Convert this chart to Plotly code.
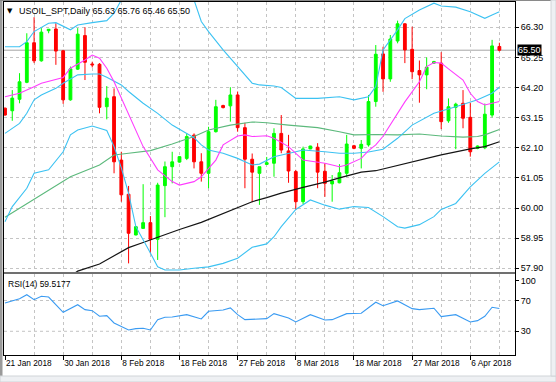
import plotly.graph_objects as go

# ---------------- data ----------------
date_labels = ["21 Jan 2018", "30 Jan 2018", "8 Feb 2018", "18 Feb 2018", "27 Feb 2018",
               "8 Mar 2018", "18 Mar 2018", "27 Mar 2018", "6 Apr 2018"]
date_label_bars = [0, 8, 16, 24, 32, 40, 48, 56, 64]
grid_bars = [4, 8, 12, 16, 20, 24, 28, 32, 36, 40, 44, 48, 52, 56, 60, 64, 68]

opens = [63.48, 63.39, 63.79, 64.38, 65.76, 65.13, 66.18, 66.24, 65.48, 63.77,
         64.84, 66.01, 65.02, 65.01, 63.53, 63.88, 61.67, 60.48, 59.06, 59.29,
         59.49, 58.91, 60.78, 61.44, 61.60, 61.73, 62.54, 61.61, 61.21, 62.66,
         63.57, 63.56, 63.94, 62.80, 61.70, 61.21, 61.52, 61.56, 62.60, 61.99,
         61.27, 60.22, 62.06, 62.12, 61.28, 60.84, 60.88, 61.21, 62.17, 62.08,
         62.20, 63.71, 65.37, 64.50, 65.82, 66.42, 65.53, 64.79, 64.64, 65.05,
         65.05, 63.04, 63.51, 63.65, 63.16, 62.08, 62.10, 63.24, 65.63]
highs = [63.50, 64.11, 64.70, 66.09, 66.65, 66.27, 66.23, 66.44, 65.51, 64.93,
         66.27, 66.30, 65.10, 65.05, 64.25, 64.17, 61.96, 60.77, 59.36, 60.83,
         59.72, 60.88, 61.62, 61.96, 61.81, 62.60, 62.60, 61.91, 62.83, 63.77,
         63.60, 64.21, 64.06, 62.97, 61.90, 61.44, 61.78, 62.78, 63.24, 62.55,
         61.33, 62.14, 62.17, 62.26, 61.56, 61.15, 61.53, 62.55, 62.20, 62.37,
         63.94, 65.68, 65.62, 66.03, 66.53, 66.44, 66.32, 65.14, 65.25, 65.13,
         65.43, 63.82, 63.67, 64.11, 63.67, 62.18, 63.64, 65.86, 65.76]
lows = [63.22, 63.04, 63.65, 64.35, 65.05, 65.10, 66.09, 64.99, 63.63, 63.74,
        64.81, 64.46, 64.90, 63.30, 63.09, 61.21, 60.22, 58.07, 59.05, 59.28,
        58.42, 58.19, 59.68, 60.86, 61.58, 61.67, 61.38, 60.92, 60.69, 62.63,
        63.47, 63.01, 62.66, 60.69, 60.20, 60.11, 61.50, 61.09, 61.91, 60.88,
        59.94, 60.14, 62.05, 60.69, 60.39, 60.22, 60.86, 61.09, 62.05, 61.38,
        62.14, 63.53, 64.05, 64.40, 65.74, 65.05, 64.49, 63.67, 64.14, 65.02,
        62.75, 62.97, 62.05, 62.78, 61.79, 62.05, 62.05, 63.16, 65.46]
closes = [63.24, 63.83, 64.40, 65.76, 65.13, 66.13, 66.23, 65.47, 63.77, 64.85,
          66.06, 65.08, 64.99, 63.51, 63.83, 61.61, 60.46, 59.12, 59.35, 59.49,
          58.91, 60.80, 61.44, 61.61, 61.79, 62.49, 61.61, 61.21, 62.66, 63.53,
          63.50, 63.94, 62.80, 61.70, 61.25, 61.44, 61.58, 62.60, 62.02, 61.29,
          60.22, 62.06, 62.16, 61.25, 60.86, 60.94, 61.23, 62.23, 62.08, 62.22,
          63.71, 65.36, 64.50, 65.89, 66.42, 65.51, 64.75, 64.64, 64.91, 65.10,
          63.01, 63.53, 63.62, 63.13, 61.96, 62.16, 63.27, 65.65, 65.50]

bb_upper_bars = [0, 2, 3, 4, 6, 7, 9, 10, 12, 14, 15, 16, 17, 19, 21, 23, 25, 26, 27, 28,
                 30, 32, 34, 35, 37, 38, 40, 43, 46, 48, 50, 51, 52, 54, 55, 57, 59, 60,
                 62, 64, 66, 67, 68]
bb_upper = [65.62, 65.62, 65.80, 66.15, 66.44, 66.46, 66.21, 66.38, 66.46, 66.53, 66.79,
            67.25, 67.90, 68.40, 68.60, 68.30, 67.60, 67.25, 66.50, 66.15, 65.51, 64.93,
            64.35, 64.29, 64.25, 64.20, 63.82, 63.82, 63.88, 63.77, 63.88, 64.23, 65.51,
            66.21, 66.60, 66.90, 67.14, 67.04, 67.00, 66.84, 66.61, 66.73, 66.84]

bb_mid_bars = [0, 2, 3, 4, 5, 7, 8, 10, 12, 13, 14, 16, 17, 19, 21, 23, 26, 27, 28, 30,
               32, 34, 35, 37, 40, 41, 44, 46, 48, 50, 52, 54, 56, 59, 62, 65, 67, 68]
bb_mid = [62.60, 62.95, 63.30, 63.77, 63.94, 64.17, 64.35, 64.64, 64.67, 64.67, 64.56,
          64.29, 64.06, 63.65, 63.30, 62.89, 62.45, 62.20, 62.02, 61.91, 61.73, 61.50,
          61.53, 61.79, 61.96, 62.02, 61.96, 61.91, 61.91, 61.95, 62.05, 62.43, 62.89,
          63.30, 63.53, 63.77, 64.00, 64.21]

bb_lower_bars = [0, 1, 3, 4, 6, 8, 9, 10, 12, 14, 15, 16, 17, 18, 20, 21, 22, 24, 26, 28,
                 30, 32, 34, 36, 37, 38, 40, 42, 44, 46, 48, 50, 52, 54, 55, 57, 59, 60,
                 62, 64, 66, 68]
bb_lower = [59.52, 60.05, 60.69, 61.21, 61.33, 61.96, 62.55, 62.72, 62.86, 62.70, 62.14,
            61.40, 60.51, 59.35, 58.43, 57.95, 57.84, 57.84, 57.90, 57.95, 58.07, 58.25,
            58.63, 58.75, 59.00, 59.35, 59.95, 60.28, 60.10, 59.96, 60.05, 60.02, 59.70,
            59.35, 59.30, 59.42, 59.70, 59.95, 60.16, 60.74, 61.21, 61.61]

ma_fast_bars = [0, 2, 4, 5, 8, 9, 11, 12, 13, 14, 15, 16, 17, 19, 21, 23, 24, 26, 27, 29,
                30, 32, 33, 34, 36, 37, 39, 41, 44, 46, 47, 49, 50, 51, 52, 54, 55, 57,
                58, 59, 60, 61, 63, 64, 65, 66, 67, 68]
ma_fast = [63.88, 64.00, 64.23, 64.35, 64.55, 64.87, 65.16, 65.33, 65.22, 64.87, 64.40,
           63.85, 63.30, 62.14, 61.33, 60.92, 60.80, 60.92, 61.09, 61.67, 62.20, 62.51,
           62.55, 62.49, 62.52, 62.43, 62.14, 61.67, 61.56, 61.44, 61.50, 61.73, 62.00,
           62.20, 62.50, 63.30, 63.70, 64.40, 64.93, 65.07, 65.05, 64.85, 64.46, 64.00,
           63.71, 63.59, 63.65, 63.71]

ma_mid_bars = [0, 3, 6, 9, 13, 15, 17, 20, 23, 26, 28, 31, 34, 36, 39, 43, 46, 48, 51,
               54, 57, 60, 63, 65, 66, 68]
ma_mid = [59.68, 60.16, 60.63, 61.09, 61.50, 61.85, 61.91, 62.00, 62.23, 62.49, 62.72,
          62.89, 63.00, 62.97, 62.89, 62.80, 62.66, 62.55, 62.56, 62.55, 62.58, 62.51,
          62.47, 62.49, 62.55, 62.74]

ma_slow_bars = [8, 10, 13, 15, 17, 19, 22, 24, 27, 30, 32, 34, 36, 38, 41, 44, 46, 49,
                51, 55, 60, 64, 66, 68]
ma_slow = [57.45, 57.80, 58.05, 58.35, 58.62, 58.80, 59.08, 59.25, 59.50, 59.80, 60.02,
           60.22, 60.36, 60.52, 60.72, 60.90, 61.05, 61.25, 61.30, 61.55, 61.85, 62.06,
           62.14, 62.31]

rsi_bars = [0, 2, 3, 4, 5, 6, 8, 10, 11, 12, 13, 14, 15, 16, 17, 18, 19, 20, 21, 22,
            23, 25, 27, 28, 30, 31, 32, 33, 35, 36, 37, 39, 40, 42, 44, 45, 47, 49, 51,
            52, 54, 56, 57, 59, 60, 62, 64, 65, 66, 67, 68]
rsi_vals = [66.8, 72.3, 77.5, 71.0, 75.5, 74.5, 54.7, 64.5, 58.1, 56.8, 49.5, 50.3, 40.8,
            36.5, 31.7, 33.4, 33.9, 31.7, 45.1, 48.2, 48.6, 51.6, 46.0, 56.0, 57.7, 60.3,
            51.6, 45.1, 46.0, 46.4, 52.9, 47.3, 42.1, 51.6, 44.7, 45.1, 52.9, 53.4, 67.7,
            63.2, 69.4, 59.4, 58.1, 59.9, 49.0, 51.6, 42.1, 43.8, 49.5, 61.2, 59.5177]

price_ticks = [57.90, 58.95, 60.00, 61.05, 62.10, 63.15, 64.20, 65.25, 66.30]
rsi_levels = [30, 70]
rsi_tick_vals = [30, 70, 95.7]
rsi_tick_text = ["30", "70", "100"]
symbol_title = "USOIL_SPT,Daily 65.63 65.76 65.46 65.50"
bid_price = 65.50
rsi_title = "RSI(14) 59.5177"

# ---------------- styling ----------------
FONT = "Liberation Sans, Arial, sans-serif"
GRID = "#C4C4C4"
BAND = "#3CC2F2"
W, H = 556, 382
ML, MR, MT, MB = 4, 41, 2, 27
PW, PH = W - ML - MR, H - MT - MB
main_dom = [(355 - 272) / PH, 1.0]
rsi_dom = [0.0, (355 - 274) / PH]
x_range = [-0.1375, 70.15]


def px_x(px):
    return (px - ML) / PW


def px_y(py):
    return (H - MB - py) / PH


fig = go.Figure()

fig.add_trace(go.Candlestick(
    x=list(range(len(opens))), open=opens, high=highs, low=lows, close=closes,
    increasing=dict(line=dict(color="#00FF00", width=1), fillcolor="#00FF00"),
    decreasing=dict(line=dict(color="#FF0000", width=1), fillcolor="#FF0000"),
    whiskerwidth=0, xaxis="x", yaxis="y", showlegend=False, hoverinfo="skip"))


def line(xs, ys, color, width=1.1, xa="x", ya="y"):
    fig.add_trace(go.Scatter(x=xs, y=ys, mode="lines", line=dict(color=color, width=width),
                             xaxis=xa, yaxis=ya, showlegend=False, hoverinfo="skip"))


line(ma_slow_bars, ma_slow, "#141414", 1.2)
line(ma_mid_bars, ma_mid, "#5CB97C")
line(bb_upper_bars, bb_upper, BAND)
line(bb_mid_bars, bb_mid, BAND)
line(bb_lower_bars, bb_lower, BAND)
line(ma_fast_bars, ma_fast, "#FF3CFF")
line(rsi_bars, rsi_vals, "#3A9BF2", 1.1, "x2", "y2")

shapes = []
# bid line
shapes.append(dict(type="line", xref="paper", yref="y", x0=0, x1=1, y0=bid_price, y1=bid_price,
                   line=dict(color="#A4A4A4", width=1), layer="below"))
# rsi levels
for lv in rsi_levels:
    shapes.append(dict(type="line", xref="paper", yref="y2", x0=0, x1=1, y0=lv, y1=lv,
                       line=dict(color=GRID, width=1, dash="3px,3px"), layer="below"))
# separator between panes
shapes.append(dict(type="rect", xref="paper", yref="paper", x0=0, x1=1,
                   y0=rsi_dom[1], y1=main_dom[0], fillcolor="#707070",
                   line=dict(width=0)))
# window frame (terminal borders)
shapes.append(dict(type="rect", xref="paper", yref="paper", x0=px_x(0), x1=px_x(2.5),
                   y0=px_y(H), y1=px_y(0), fillcolor="#9A9A9A", line=dict(width=0)))
shapes.append(dict(type="line", xref="paper", yref="paper", x0=px_x(0), x1=px_x(W),
                   y0=px_y(0.5), y1=px_y(0.5), line=dict(color="#8A8A8A", width=1)))
shapes.append(dict(type="rect", xref="paper", yref="paper", x0=px_x(0), x1=px_x(W),
                   y0=px_y(H), y1=px_y(376), fillcolor="#EEF0F3",
                   line=dict(color="#D0D4D8", width=1)))
shapes.append(dict(type="rect", xref="paper", yref="paper", x0=px_x(551), x1=px_x(W),
                   y0=px_y(376), y1=px_y(0), fillcolor="#EEF0F3",
                   line=dict(color="#D0D4D8", width=1)))

annotations = [
    dict(text="▼", xref="paper", yref="paper", x=px_x(10), y=px_y(11),
         xanchor="center", yanchor="middle", showarrow=False,
         font=dict(family="DejaVu Sans", size=7, color="black")),
    dict(text=symbol_title, xref="paper", yref="paper", x=px_x(17), y=px_y(11),
         xanchor="left", yanchor="middle", showarrow=False,
         font=dict(family=FONT, size=9, color="black")),
    dict(text=rsi_title, xref="paper", yref="paper", x=px_x(6), y=px_y(283.5),
         xanchor="left", yanchor="middle", showarrow=False,
         font=dict(family=FONT, size=8.5, color="black")),
    dict(text="%.2f" % bid_price, xref="paper", yref="y", x=1, y=bid_price, xanchor="left",
         yanchor="middle", xshift=2, showarrow=False, bgcolor="black", borderpad=0,
         font=dict(family=FONT, size=9, color="white")),
]

fig.update_layout(
    width=W, height=H, margin=dict(l=ML, r=MR, t=MT, b=MB, autoexpand=False),
    paper_bgcolor="white", plot_bgcolor="white",
    boxgap=0.45,
    font=dict(family=FONT, size=9, color="black"),
    shapes=shapes, annotations=annotations,
    xaxis=dict(domain=[0, 1], anchor="y", range=x_range, showticklabels=False,
               tickvals=grid_bars, ticks="", showgrid=True, gridcolor=GRID, griddash="3px,3px",
               gridwidth=1, zeroline=False, showline=True, linecolor="black", linewidth=1,
               mirror=True, rangeslider=dict(visible=False), fixedrange=True),
    yaxis=dict(domain=main_dom, anchor="x", side="right", range=[57.77, 67.18],
               tickvals=price_ticks, tickformat=".2f", ticks="outside", ticklen=3,
               tickcolor="black", showgrid=True, gridcolor=GRID, griddash="3px,3px",
               zeroline=False, showline=True, linecolor="black", linewidth=1, mirror=True,
               tickfont=dict(size=9)),
    xaxis2=dict(domain=[0, 1], anchor="y2", range=x_range, matches="x",
                tickvals=date_label_bars, ticktext=date_labels, ticks="outside", ticklen=4,
                tickcolor="black", ticklabelposition="outside right",
                showgrid=True, gridcolor=GRID, griddash="3px,3px",
                minor=dict(tickvals=grid_bars, showgrid=True, gridcolor=GRID,
                           griddash="3px,3px", ticks=""),
                zeroline=False, showline=True, linecolor="black", linewidth=1, mirror=True,
                tickfont=dict(size=8.3)),
    yaxis2=dict(domain=rsi_dom, anchor="x2", side="right", range=[-0.8, 104.4],
                tickvals=rsi_tick_vals, ticktext=rsi_tick_text, ticks="outside", ticklen=3,
                tickcolor="black", showgrid=False, zeroline=False, showline=True,
                linecolor="black", linewidth=1, mirror=True, tickfont=dict(size=9)),
)

fig.write_html("out.html", config={"displayModeBar": False, "staticPlot": True},
               post_script="document.body.style.margin='0px';"
                           "document.body.style.overflow='hidden';")
